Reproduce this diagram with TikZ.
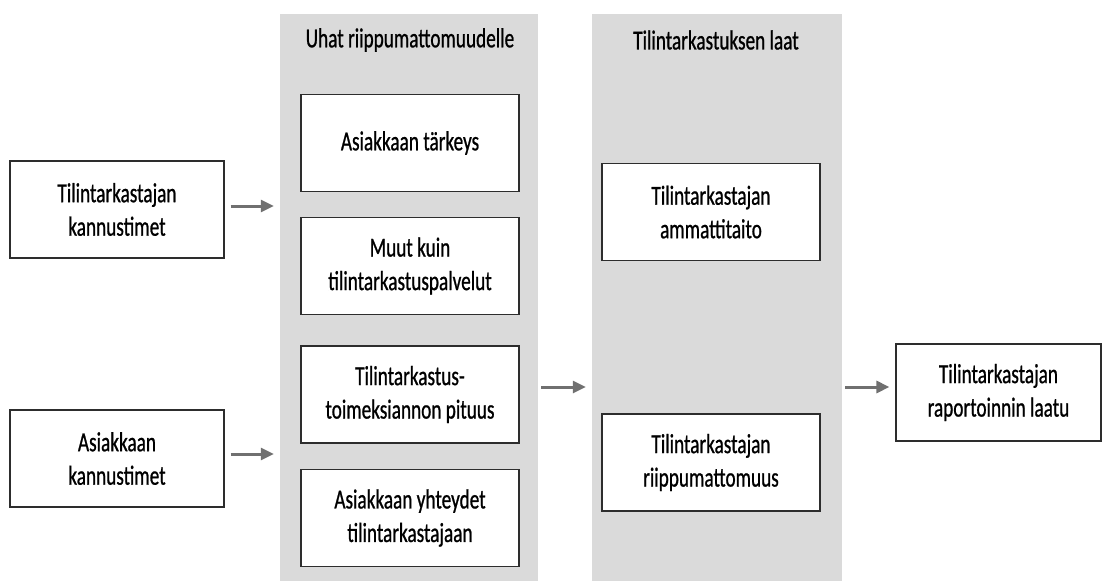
\documentclass[tikz,border=0pt]{standalone}
\usepackage{fontspec}
\setmainfont{Carlito}[FakeStretch=0.70, FakeBold=0.8]
\usetikzlibrary{arrows.meta}
\definecolor{panelgray}{RGB}{218,218,218}
\definecolor{arrowgray}{RGB}{112,112,112}
\definecolor{boxline}{RGB}{45,45,45}

\begin{document}
\begin{tikzpicture}[x=1pt, y=-1pt,
        box/.style = {draw=boxline, line width=1.2pt, fill=white, text=black, align=center, minimum height=97pt, inner sep=0pt, font=\fontsize{27.5}{33.5}\selectfont},
        panel/.style = {fill=panelgray, draw=none, minimum width=#1, minimum height=567pt, inner sep=0pt},
        title/.style = {text=black, font=\fontsize{27.5}{33.5}\selectfont, inner sep=0pt},
        arr/.style = {draw=arrowgray, line width=3pt, -{Triangle[length=13pt,width=12pt]}}]
    \useasboundingbox (0,0) rectangle (1103,581);
    \node[panel=258pt] (uhat) at (409,297.5) {};
    \node[panel=250pt] (laat) at (717,297.5) {};
    \node[title] (uhatT) at (410,40) {Uhat riippumattomuudelle};
    \node[title] (laatT) at (716,40) {Tilintarkastuksen laat};
    \node[box, minimum width=214pt] (tkan) at (117,209.5) {Tilintarkastajan\\kannustimet};
    \node[box, minimum width=214pt] (akan) at (117,458.5) {Asiakkaan\\kannustimet};
    \node[box, minimum width=218pt] (tark) at (410,143) {Asiakkaan tärkeys};
    \node[box, minimum width=218pt] (muut) at (410,266) {Muut kuin\\tilintarkastuspalvelut};
    \node[box, minimum width=218pt] (pit) at (410,394.5) {Tilintarkastus-\\toimeksiannon pituus};
    \node[box, minimum width=218pt] (yht) at (410,518) {Asiakkaan yhteydet\\tilintarkastajaan};
    \node[box, minimum width=218pt] (amm) at (711,212) {Tilintarkastajan\\ammattitaito};
    \node[box, minimum width=218pt] (riip) at (711,462.5) {Tilintarkastajan\\riippumattomuus};
    \node[box, minimum width=205pt] (rap) at (998.5,392.5) {Tilintarkastajan\\raportoinnin laatu};
    \draw[arr] ([xshift=6pt, yshift=3.5pt]tkan.east) -- ([xshift=-6pt, yshift=3.5pt]uhat.west |- tkan.east);
    \draw[arr] ([xshift=6pt, yshift=4.5pt]akan.east) -- ([xshift=-6pt, yshift=4.5pt]uhat.west |- akan.east);
    \draw[arr] ([xshift=3pt, yshift=5.5pt]uhat.east |- rap.west) -- ([xshift=-6pt, yshift=5.5pt]laat.west |- rap.west);
    \draw[arr] ([xshift=3pt, yshift=5.5pt]laat.east |- rap.west) -- ([xshift=-6pt, yshift=5.5pt]rap.west);
\end{tikzpicture}
\end{document}
